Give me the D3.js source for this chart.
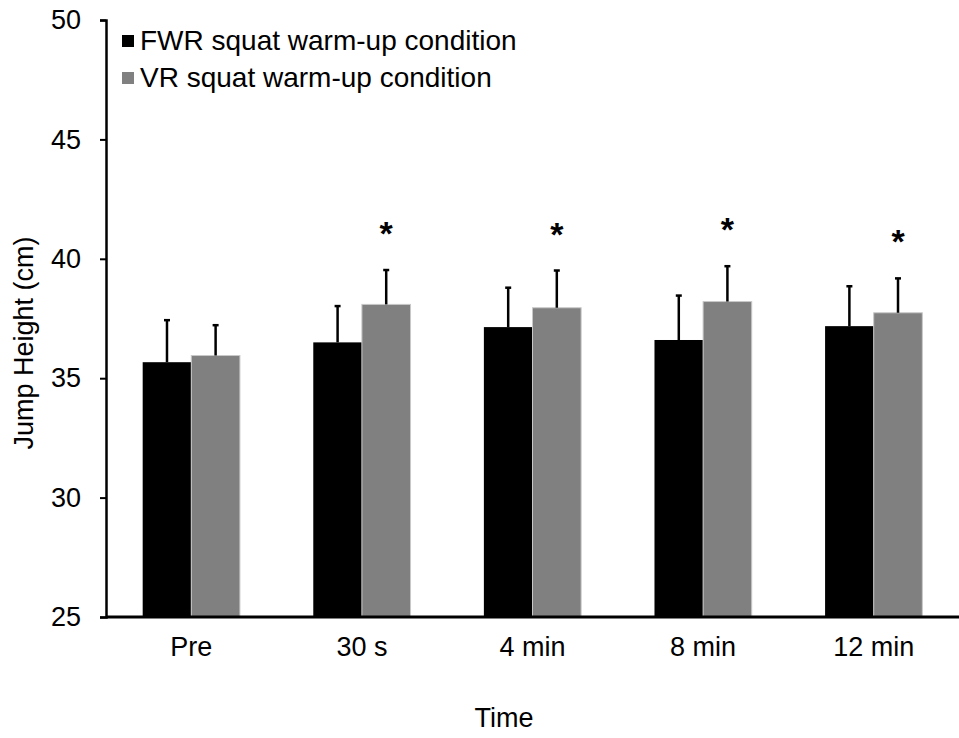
<!DOCTYPE html>
<html>
<head>
<meta charset="utf-8">
<script src="https://cdn.jsdelivr.net/npm/d3@7"></script>
<style>
  body { margin: 0; background: #fff; }
  svg { font-family: "Liberation Sans", Arial, sans-serif; }
</style>
</head>
<body>
<svg id="chart"></svg>
<script>
// Data
const categories = ["Pre", "30 s", "4 min", "8 min", "12 min"];
const seriesNames = ["FWR squat warm-up condition", "VR squat warm-up condition"];
const fwrMeans = [35.67, 36.5, 37.14, 36.6, 37.18];
const fwrSD = [1.76, 1.52, 1.65, 1.86, 1.67];
const vrMeans = [35.95, 38.09, 37.95, 38.21, 37.74];
const vrSD = [1.27, 1.44, 1.56, 1.48, 1.44];
const significant = [false, true, true, true, true];
const yTicks = [25, 30, 35, 40, 45, 50];
const colors = ["#000000", "#808080"];

// Dimensions
const width = 959, height = 738;
const margin = { top: 20, right: 0, bottom: 121, left: 106 };

const svg = d3.select("#chart")
    .attr("width", width)
    .attr("height", height);

const x = d3.scaleBand()
    .domain(categories)
    .range([margin.left, width - margin.right])
    .paddingInner(0.43)
    .paddingOuter(0.215);

const xSub = d3.scaleBand()
    .domain([0, 1])
    .range([0, x.bandwidth()]);

const y = d3.scaleLinear()
    .domain([25, 50])
    .range([height - margin.bottom, margin.top]);

// Build rows
const rows = [];
categories.forEach((c, i) => {
    rows.push({ cat: c, s: 0, mean: fwrMeans[i], sd: fwrSD[i] });
    rows.push({ cat: c, s: 1, mean: vrMeans[i], sd: vrSD[i] });
});

// Bars
svg.append("g")
    .selectAll("rect")
    .data(rows)
    .enter()
    .append("rect")
    .attr("x", d => x(d.cat) + xSub(d.s))
    .attr("y", d => y(d.mean))
    .attr("width", xSub.bandwidth())
    .attr("height", d => y(25) - y(d.mean))
    .attr("fill", d => colors[d.s])
    .attr("stroke", d => d.s === 1 ? "#c8c8c8" : "none")
    .attr("stroke-width", 1);

// Error bars (upper only)
const err = svg.append("g")
    .attr("stroke", "#000")
    .attr("stroke-width", 2.5);

err.selectAll("line.v")
    .data(rows)
    .enter()
    .append("line")
    .attr("class", "v")
    .attr("x1", d => x(d.cat) + xSub(d.s) + xSub.bandwidth() / 2)
    .attr("x2", d => x(d.cat) + xSub(d.s) + xSub.bandwidth() / 2)
    .attr("y1", d => y(d.mean))
    .attr("y2", d => y(d.mean + d.sd));

err.selectAll("line.cap")
    .data(rows)
    .enter()
    .append("line")
    .attr("class", "cap")
    .attr("x1", d => x(d.cat) + xSub(d.s) + xSub.bandwidth() / 2 - 3)
    .attr("x2", d => x(d.cat) + xSub(d.s) + xSub.bandwidth() / 2 + 3)
    .attr("y1", d => y(d.mean + d.sd))
    .attr("y2", d => y(d.mean + d.sd));

// Asterisks
svg.append("g")
    .selectAll("text")
    .data(categories.map((c, i) => ({ cat: c, i })).filter(d => significant[d.i]))
    .enter()
    .append("text")
    .attr("x", d => x(d.cat) + xSub(1) + xSub.bandwidth() / 2)
    .attr("y", d => y(vrMeans[d.i] + vrSD[d.i]) - 25)
    .attr("text-anchor", "middle")
    .attr("font-size", 34)
    .attr("font-weight", "bold")
    .text("*");

// Y axis
const yAxis = svg.append("g")
    .attr("transform", `translate(${margin.left},0)`)
    .call(d3.axisLeft(y).tickValues(yTicks).tickSize(6).tickPadding(19));
yAxis.select(".domain").attr("stroke-width", 2.5);
yAxis.selectAll(".tick line").attr("stroke-width", 2);
yAxis.selectAll(".tick text")
    .attr("font-size", 27)
    .attr("fill", "#000")
    .attr("font-family", "Liberation Sans, Arial, sans-serif");

// X axis
const xAxis = svg.append("g")
    .attr("transform", `translate(0,${y(25)})`)
    .call(d3.axisBottom(x).tickSize(0).tickPadding(20));
xAxis.select(".domain")
    .attr("stroke-width", 3)
    .attr("d", `M${margin.left},0H${width}`);
xAxis.selectAll(".tick text")
    .attr("font-size", 27)
    .attr("fill", "#000")
    .attr("font-family", "Liberation Sans, Arial, sans-serif");

// Axis titles
svg.append("text")
    .attr("x", 504)
    .attr("y", 727)
    .attr("text-anchor", "middle")
    .attr("font-size", 27)
    .text("Time");

svg.append("text")
    .attr("transform", `translate(33,343) rotate(-90)`)
    .attr("text-anchor", "middle")
    .attr("font-size", 27)
    .text("Jump Height (cm)");

// Legend
const legend = svg.append("g")
    .selectAll("g")
    .data(seriesNames)
    .enter()
    .append("g")
    .attr("transform", (d, i) => `translate(122,${40 + i * 37})`);

legend.append("rect")
    .attr("x", 0)
    .attr("y", -5)
    .attr("width", 12)
    .attr("height", 12)
    .attr("fill", (d, i) => colors[i]);

legend.append("text")
    .attr("x", 18)
    .attr("y", 10)
    .attr("font-size", 28)
    .text(d => d);
</script>
</body>
</html>
